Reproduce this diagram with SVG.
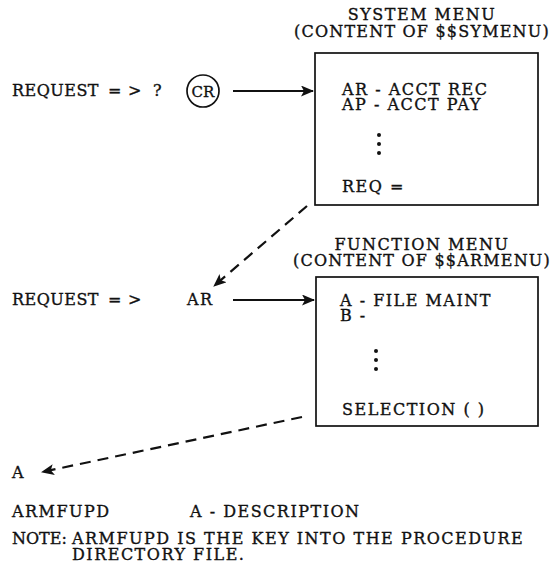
<svg xmlns="http://www.w3.org/2000/svg" width="553" height="575" viewBox="0 0 553 575">
<defs>
<style>
text{font-family:"DejaVu Serif","Liberation Serif",serif;font-size:16px;fill:#111;stroke:#111;stroke-width:0.35;letter-spacing:1.5px}
.mid{text-anchor:middle}
.box{fill:none;stroke:#111;stroke-width:1.7}
.ln{fill:none;stroke:#111;stroke-width:1.8}
.dash{fill:none;stroke:#111;stroke-width:2.2;stroke-dasharray:11 7}
.dot{fill:#111}
</style>
<marker id="ah" viewBox="0 0 13 11" refX="12" refY="5.5" markerWidth="13" markerHeight="11" markerUnits="userSpaceOnUse" orient="auto">
<path d="M0,0 L13,5.5 L0,11 L3,5.5 z" fill="#111"/>
</marker>
</defs>
<rect width="553" height="575" fill="#fff"/>

<g id="request1">
<text x="12" y="96" textLength="88" lengthAdjust="spacing">REQUEST</text>
<text x="108" y="96">=</text>
<text x="128" y="96">&gt;</text>
<text x="153" y="96">?</text>
<circle cx="203" cy="91" r="16" fill="none" stroke="#111" stroke-width="1.7"/>
<text x="203" y="97" class="mid" style="font-size:15px;letter-spacing:0">CR</text>
</g>

<g id="system-menu">
<text x="422" y="20" class="mid">SYSTEM MENU</text>
<text x="422" y="37" class="mid" style="letter-spacing:1.2px">(CONTENT OF $$SYMENU)</text>
<rect class="box" x="315" y="53" width="223" height="152"/>
<text x="342" y="95">AR - ACCT REC</text>
<text x="342" y="110">AP - ACCT PAY</text>
<circle class="dot" cx="379" cy="135" r="2"/>
<circle class="dot" cx="379" cy="144" r="2"/>
<circle class="dot" cx="379" cy="153" r="2"/>
<text x="342" y="192">REQ =</text>
</g>

<g id="request2">
<text x="12" y="305" textLength="88" lengthAdjust="spacing">REQUEST</text>
<text x="108" y="305">=</text>
<text x="128" y="305">&gt;</text>
<text x="187" y="305">AR</text>
</g>

<g id="function-menu">
<text x="422" y="250" class="mid">FUNCTION MENU</text>
<text x="422" y="266" class="mid" style="letter-spacing:1.2px">(CONTENT OF $$ARMENU)</text>
<rect class="box" x="316" y="277" width="222" height="149"/>
<text x="340" y="306">A - FILE MAINT</text>
<text x="340" y="321">B -</text>
<circle class="dot" cx="376" cy="351" r="2"/>
<circle class="dot" cx="376" cy="360" r="2"/>
<circle class="dot" cx="376" cy="369" r="2"/>
<text x="342" y="415">SELECTION ( )</text>
</g>

<g id="result">
<text x="12" y="478">A</text>
<text x="12" y="517">ARMFUPD</text>
<text x="190" y="517">A - DESCRIPTION</text>
<text x="12" y="544" style="letter-spacing:0">NOTE:</text>
<text x="72" y="544">ARMFUPD IS THE KEY INTO THE PROCEDURE</text>
<text x="72" y="560">DIRECTORY FILE.</text>
</g>

<g id="connectors">
<line class="ln" x1="233" y1="91" x2="313" y2="91" marker-end="url(#ah)"/>
<line class="dash" x1="307" y1="206" x2="214" y2="286" marker-end="url(#ah)"/>
<line class="ln" x1="233" y1="300" x2="314" y2="300" marker-end="url(#ah)"/>
<line class="dash" x1="302" y1="417" x2="42" y2="472" marker-end="url(#ah)"/>
</g>
</svg>
